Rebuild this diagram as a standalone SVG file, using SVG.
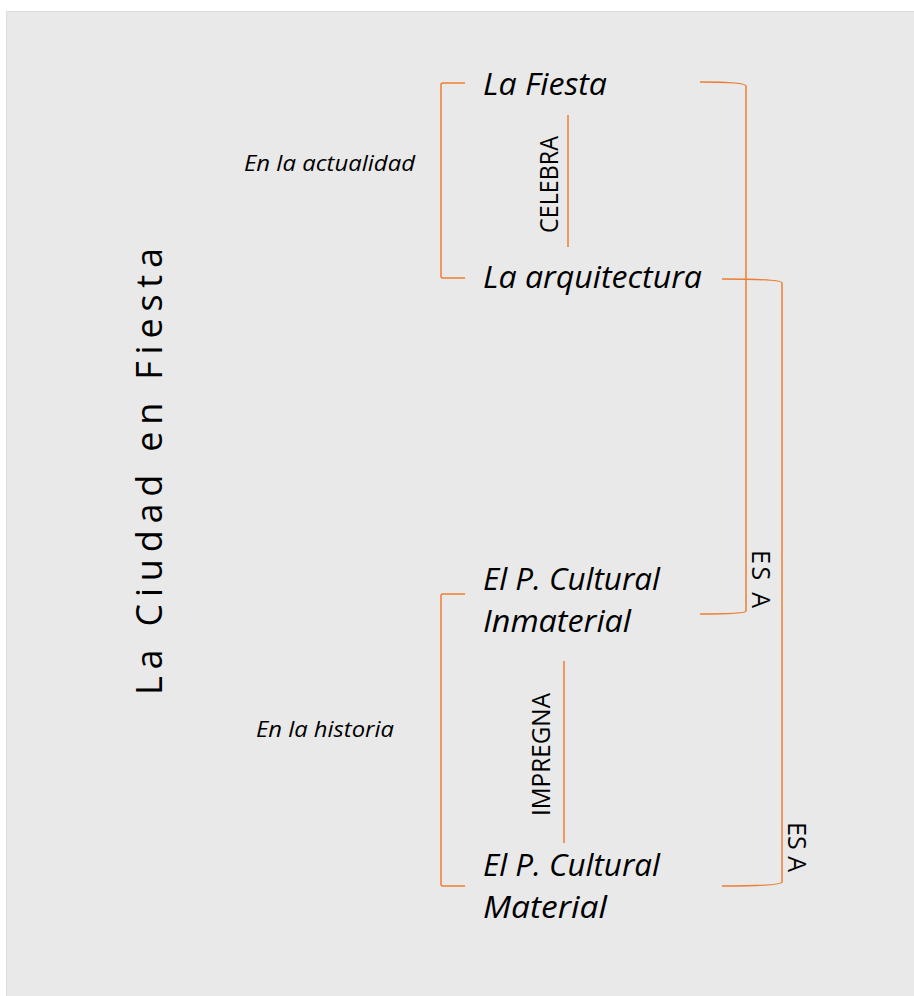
<svg xmlns="http://www.w3.org/2000/svg" width="914" height="996" viewBox="0 0 914 996">
<style>
.bg{fill:#e9e9e9;stroke:#dcdcdc;stroke-width:1}
.ln{fill:none;stroke:#ED7D31;stroke-width:1.5}
.node{font-family:"Open Sans","Liberation Sans",sans-serif;font-style:italic;font-size:31px;fill:#000}
.ctx{font-family:"Open Sans","Liberation Sans",sans-serif;font-style:italic;font-size:22px;fill:#000}
.lbl{font-family:"Open Sans","Liberation Sans",sans-serif;font-size:25px;fill:#000}
.title{font-family:"Open Sans","Liberation Sans",sans-serif;font-size:36px;fill:#000}
</style>
<rect class="bg" x="6.5" y="11.5" width="910" height="990"/>
<g id="connectors">
<path class="ln" d="M465 83 H443 Q441 83 441 85 V276 Q441 278 443 278 H465"/>
<path class="ln" d="M465 594 H443 Q441 594 441 596 V884 Q441 886 443 886 H465"/>
<path class="ln" d="M568 115 V247"/>
<path class="ln" d="M564 661 V843"/>
<path class="ln" d="M700 82 C728 82 746 83 746 86 V611 C746 613 728 614 700 614"/>
<path class="ln" d="M722 279 C760 279 782 280 782 283 V882 C782 885 760 886 722 886"/>
</g>
<g id="title"><text class="title" transform="translate(162,695) rotate(-90)" textLength="447" lengthAdjust="spacing">La Ciudad en Fiesta</text></g>
<g id="ctx-actualidad"><text class="ctx" x="244" y="171" textLength="171" lengthAdjust="spacingAndGlyphs">En la actualidad</text></g>
<g id="ctx-historia"><text class="ctx" x="256" y="737" textLength="138" lengthAdjust="spacingAndGlyphs">En la historia</text></g>
<g id="node-fiesta"><text class="node" x="483" y="95" textLength="124" lengthAdjust="spacingAndGlyphs">La Fiesta</text></g>
<g id="node-arquitectura"><text class="node" x="483" y="288" textLength="219" lengthAdjust="spacingAndGlyphs">La arquitectura</text></g>
<g id="node-inmaterial"><text class="node" x="483" y="590" textLength="177" lengthAdjust="spacingAndGlyphs">El P. Cultural</text><text class="node" x="483" y="632" textLength="148" lengthAdjust="spacingAndGlyphs">Inmaterial</text></g>
<g id="node-material"><text class="node" x="483" y="876" textLength="177" lengthAdjust="spacingAndGlyphs">El P. Cultural</text><text class="node" x="483" y="918" textLength="124" lengthAdjust="spacingAndGlyphs">Material</text></g>
<g id="label-celebra"><text class="lbl" transform="translate(558,233) rotate(-90)" textLength="97" lengthAdjust="spacingAndGlyphs">CELEBRA</text></g>
<g id="label-impregna"><text class="lbl" transform="translate(550,816) rotate(-90)" textLength="123" lengthAdjust="spacingAndGlyphs">IMPREGNA</text></g>
<g id="label-esa1"><text class="lbl" transform="translate(752,550) rotate(90)" textLength="58" lengthAdjust="spacing">ES  A</text></g>
<g id="label-esa2"><text class="lbl" transform="translate(788,822) rotate(90)" textLength="50" lengthAdjust="spacing">ES  A</text></g>
</svg>
